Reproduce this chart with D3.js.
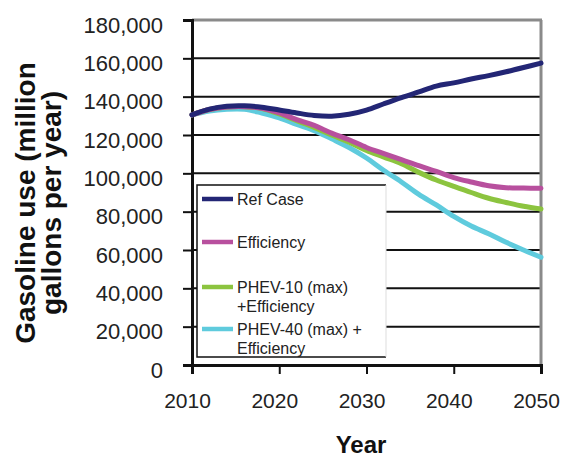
<!DOCTYPE html>
<html><head><meta charset="utf-8">
<script src="https://cdn.jsdelivr.net/npm/d3@7"></script>
<style>body{margin:0;background:#fff}svg{display:block}text{font-family:"Liberation Sans",Arial,sans-serif}</style>
</head><body><svg id="c" width="564" height="459"></svg>
<script>
const years = [2010,2012,2014,2016,2018,2020,2022,2024,2026,2028,2030,2032,2034,2036,2038,2040,2042,2044,2046,2048,2050];
const refCase = [130500,133500,135000,135200,134500,133000,131500,130200,129800,130800,133000,136300,139500,142500,145500,147200,149200,151000,153000,155200,157500];
const efficiency = [130500,133300,134600,134800,134000,131500,128000,125000,121000,117500,113500,110300,107200,104000,101000,97800,95500,93500,92500,92300,92200];
const phev10 = [130500,133300,134600,134800,133800,131000,127500,124000,120000,116200,112000,108500,105000,100500,96500,93200,90000,87000,84800,82800,81400];
const phev40 = [130500,132500,133400,133400,131500,129000,125500,122300,118000,113500,108000,101500,95500,89000,83500,77500,72500,68500,64000,60000,56200];
const seriesNames = [["Ref Case"],["Efficiency"],["PHEV-10 (max)","+Efficiency"],["PHEV-40 (max) +","Efficiency"]];
const seriesColors = ["#232675","#b8509e","#8cc43f","#5fcbdd"];
const yTicks = [0,20000,40000,60000,80000,100000,120000,140000,160000,180000];
const xTicks = [2010,2020,2030,2040,2050];

const svg = d3.select("#c");
const x = d3.scaleLinear().domain([2010,2050]).range([192,541]);
const y = d3.scaleLinear().domain([0,180000]).range([365,20]);

// gridlines
svg.append("g").selectAll("line").data(yTicks.filter(t=>t>0&&t<180000)).join("line")
  .attr("x1",x(2010)).attr("x2",x(2050)).attr("y1",d=>y(d)).attr("y2",d=>y(d))
  .attr("stroke","#111").attr("stroke-width",2);
// top and right border
svg.append("line").attr("x1",x(2010)).attr("x2",x(2050)+1).attr("y1",y(180000)).attr("y2",y(180000)).attr("stroke","#8a8a8a").attr("stroke-width",3);
svg.append("line").attr("x1",x(2050)).attr("x2",x(2050)).attr("y1",y(180000)).attr("y2",y(0)).attr("stroke","#8a8a8a").attr("stroke-width",3);

// y axis
const ya = svg.append("g").attr("transform",`translate(${x(2010)},0)`)
  .call(d3.axisLeft(y).tickValues(yTicks).tickSize(9).tickPadding(20).tickFormat(d3.format(",")));
ya.select(".domain").attr("stroke","#111").attr("stroke-width",3);
ya.selectAll(".tick line").attr("stroke","#111").attr("stroke-width",2);
ya.selectAll(".tick text").attr("font-size",22).attr("fill","#222").attr("dy",12)
  .style("font-family","'Liberation Sans',Arial,sans-serif");

// x axis
const xa = svg.append("g").attr("transform",`translate(0,${y(0)})`)
  .call(d3.axisBottom(x).tickValues(xTicks).tickSize(9).tickPadding(19).tickFormat(d3.format("d")));
xa.select(".domain").attr("stroke","#111").attr("stroke-width",3);
xa.selectAll(".tick line").attr("stroke","#111").attr("stroke-width",2);
xa.selectAll(".tick text").attr("font-size",21).attr("fill","#222").attr("dx",-5)
  .style("font-family","'Liberation Sans',Arial,sans-serif");

// lines
const allSeries = [refCase,efficiency,phev10,phev40];
const line = d3.line().x((d,i)=>x(years[i])).y(d=>y(d)).curve(d3.curveCatmullRom);
const order = [3,2,1,0];
svg.append("g").selectAll("path").data(order).join("path")
  .attr("d",k=>line(allSeries[k])).attr("fill","none")
  .attr("stroke",k=>seriesColors[k]).attr("stroke-width",5).attr("stroke-linejoin","round").attr("stroke-linecap","round");

// legend
const lg = svg.append("g");
lg.append("rect").attr("x",197).attr("y",185).attr("width",189).attr("height",172).attr("fill","#fff");
lg.append("path").attr("d","M386,185 H197 V357 H386").attr("fill","none").attr("stroke","#111").attr("stroke-width",1.5);
lg.append("line").attr("x1",386).attr("x2",386).attr("y1",185).attr("y2",357).attr("stroke","#ddd").attr("stroke-width",1);
const lgY = [205,248,293,335];
seriesNames.forEach((nm,i)=>{
  lg.append("line").attr("x1",202).attr("x2",233).attr("y1",lgY[i]-6).attr("y2",lgY[i]-6)
    .attr("stroke",seriesColors[i]).attr("stroke-width",4.5);
  const t = lg.append("text").attr("x",237).attr("y",lgY[i]).attr("font-size",16).attr("fill","#222");
  nm.forEach((s,j)=>t.append("tspan").attr("x",237).attr("dy",j?19:0).text(s));
});

// axis titles
svg.append("text").attr("x",361).attr("y",453).attr("text-anchor","middle").attr("font-size",24).attr("font-weight","bold").attr("fill","#111").text("Year");
const yt = svg.append("text").attr("transform","translate(35,203) rotate(-90)").attr("text-anchor","middle").attr("font-size",28).attr("font-weight","bold").attr("fill","#111");
yt.append("tspan").attr("x",0).attr("y",0).text("Gasoline use (million");
yt.append("tspan").attr("x",0).attr("y",26).text("gallons per year)");
</script></body></html>
